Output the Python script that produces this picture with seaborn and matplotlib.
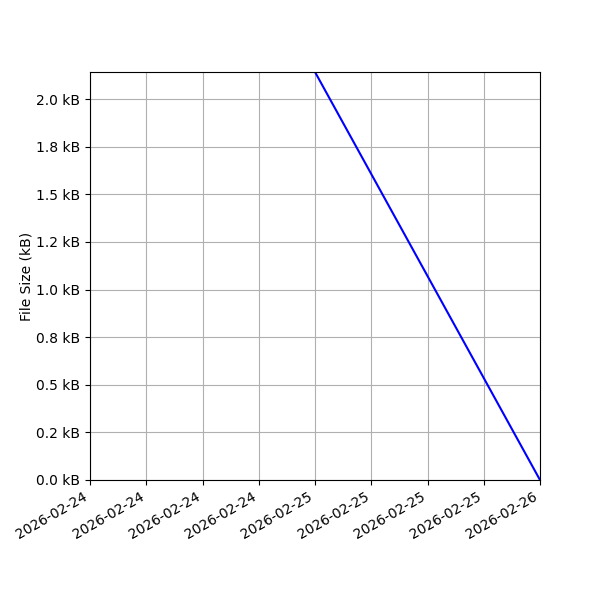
import pandas as pd
import seaborn as sb
import matplotlib
matplotlib.use('Agg')
import matplotlib.pyplot as plt
import matplotlib.dates as mdates
from matplotlib.ticker import MultipleLocator, FuncFormatter

# data
dates = pd.to_datetime(['2026-02-25 00:00', '2026-02-26 00:00'])
sizes = [2142, 0]  # bytes
x_start = pd.Timestamp('2026-02-24 00:00')
x_end = pd.Timestamp('2026-02-26 00:00')

data = pd.DataFrame({'Date': dates, 'Size': sizes})

fig, ax = plt.subplots(figsize=(6, 6), dpi=100)
sb.lineplot(data=data, x='Date', y='Size', color='blue', linewidth=1.5, ax=ax)

ax.set_xlim(x_start, x_end)
ax.set_ylim(0, max(sizes))
ax.xaxis.set_major_locator(mdates.HourLocator(byhour=[0, 6, 12, 18]))
ax.xaxis.set_major_formatter(mdates.DateFormatter('%Y-%m-%d'))
ax.yaxis.set_major_locator(MultipleLocator(250))
ax.yaxis.set_major_formatter(FuncFormatter(lambda v, p: f'{v/1000:.1f} kB'))
ax.set_xlabel('')
ax.set_ylabel('File Size (kB)', labelpad=2)
ax.grid(True)

fig.autofmt_xdate()
fig.subplots_adjust(left=0.15, right=0.9, top=0.88, bottom=0.2)
fig.savefig('out.png', dpi=100)
